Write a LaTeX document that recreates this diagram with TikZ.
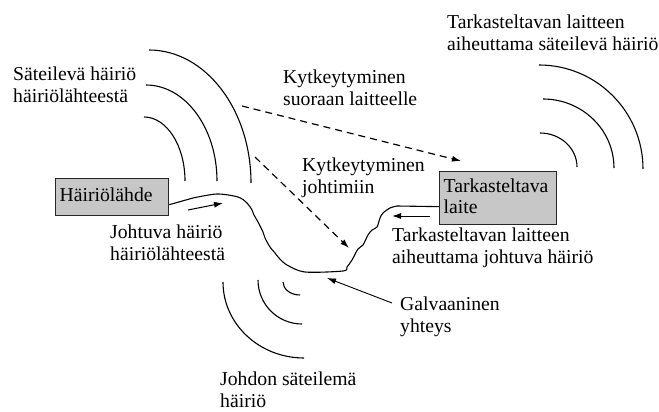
\documentclass[tikz,border=0pt]{standalone}
\usepackage{fontspec}
\setmainfont{Liberation Serif}
\usetikzlibrary{arrows.meta,calc,positioning}

\begin{document}
\begin{tikzpicture}[x=1pt,y=-1pt,>={Latex[length=9pt,width=6pt]},
		every node/.style={font=\fontsize{19.7}{21.5}\selectfont},
		lbl/.style={anchor=north west,inner sep=0pt,align=left},
		device/.style={draw=black!85,line width=1.3pt,fill=black!22,anchor=north west,inner xsep=4pt,inner ysep=3pt,align=left},
		wave/.style={line width=1.1pt},
		cpl/.style={->,line width=1.2pt,dash pattern=on 7pt off 5pt}]
		\useasboundingbox (0,0) rectangle (659,412);
		\node[device,text width=105pt,minimum height=37pt,text depth=5pt] (src) at (55,178) {Häiriölähde};
		\node[device,text width=109pt,minimum height=53pt,text depth=25.5pt] (eut) at (439,171) {Tarkasteltava\\laite};
		\node[lbl] (srcrad) at (13,67) {Säteilevä häiriö\\häiriölähteestä};
		\node[lbl] (direct) at (283,70) {Kytkeytyminen\\suoraan laitteelle};
		\node[lbl] (eutrad) at (447,15) {Tarkasteltavan laitteen\\aiheuttama säteilevä häiriö};
		\node[lbl] (wirecpl) at (302,158) {Kytkeytyminen\\johtimiin};
		\node[lbl] (srccond) at (110,225) {Johtuva häiriö\\häiriölähteestä};
		\node[lbl] (eutcond) at (392,228) {Tarkasteltavan laitteen\\aiheuttama johtuva häiriö};
		\node[lbl] (galv) at (400,297) {Galvaaninen\\yhteys};
		\node[lbl] (wirerad) at (220,372) {Johdon säteilemä\\häiriö};
		\draw[wave] ([yshift=-7.5pt]src.east) -- plot[smooth,tension=0.5] coordinates {(193,198) (217,194) (238,197) (247,203) (252,210) (254,215) (258,222) (263,232) (265,238) (270,247) (275,253) (279,258) (287,265) (305,272) (343,271) (347,267) (352,260) (358,249) (363,245) (368,235) (372,230) (377,227) (380,218) (383,213) (390,208) (397,206)} -- ([yshift=-8.5pt]eut.west);
		\draw[wave] (149,50) arc (-90:0:102 and 133);
		\draw[wave] (146,85) arc (-90:0:71 and 96);
		\draw[wave] (144,117) arc (-90:0:41 and 64);
		\draw[wave] (539,65) arc (-90:0:104 and 104);
		\draw[wave] (543,99) arc (-90:0:71 and 69);
		\draw[wave] (540,133) arc (-90:0:37 and 34);
		\draw[wave] (223,282) arc (180:90:81 and 76);
		\draw[wave] (258,280) arc (180:90:44 and 44);
		\draw[wave] (283,282) arc (180:90:17 and 13);
		\coordinate (d1s) at (242,106);
		\coordinate (d1e) at (461,161);
		\coordinate (d2s) at (255,157);
		\coordinate (d2e) at (349,248);
		\coordinate (a1s) at (188,210);
		\coordinate (a1e) at (223,203);
		\coordinate (a2s) at (430,216);
		\coordinate (a2e) at (392,216);
		\coordinate (gs) at (392,303);
		\coordinate (ge) at (327,278);
		\draw[cpl] (d1s) -- (d1e);
		\draw[cpl] (d2s) -- (d2e);
		\draw[->,line width=1pt] (a1s) -- (a1e);
		\draw[->,line width=1pt] (a2s) -- (a2e);
		\draw[->,line width=0.9pt] (gs) -- (ge);
		\end{tikzpicture}
\end{document}
